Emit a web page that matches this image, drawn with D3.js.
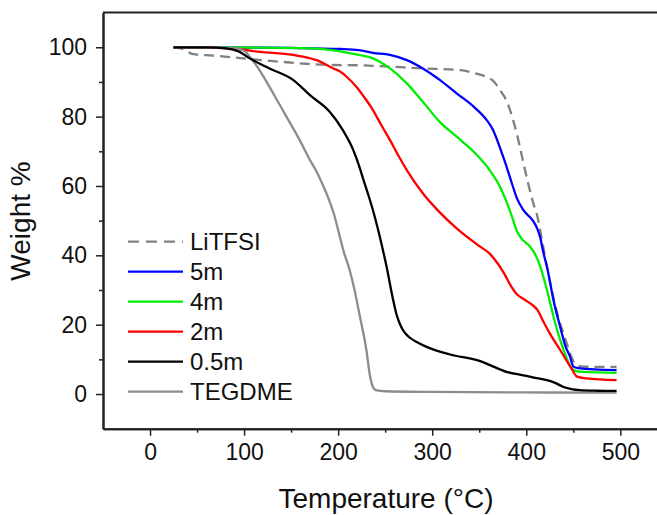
<!DOCTYPE html>
<html>
<head>
<meta charset="utf-8">
<script src="https://cdn.jsdelivr.net/npm/d3@7"></script>
<style>
  body { margin: 0; background: #fff; }
  text { font-family: "Liberation Sans", Arial, sans-serif; fill: #111; }
</style>
</head>
<body>
<svg id="chart" width="657" height="515"></svg>
<script>
// TGA curves, [temperature °C, weight %]
const litfsi = [[25,100],[35,99.5],[46,98],[67,97.6],[99,96.8],[140,95.8],[191,94.9],[223,94.8],[290,93.9],[330,93.4],[344,92.6],[358,91.4],[366,90],[372,87.7],[380,84],[386,79],[390,75],[393,71.5],[400,63],[407,55.5],[412,51],[417,44],[422,36.7],[432,24.2],[443,14.6],[450,9.5],[455,8.2],[460,7.9],[496,7.8]];
const m5 = [[25,100],[100,99.9],[150,99.8],[202,99.5],[222,99.2],[237,98.4],[255,97.8],[273,96.3],[290,93.9],[308,90.6],[326,86.7],[344,82.9],[358,79],[364,76.5],[369,73.3],[374,69.5],[379,65.6],[385,60.5],[390,56.5],[397,53],[407,50],[412,47.5],[415,45],[418,41],[422,36.7],[429,27],[436,19.4],[442,13.5],[446.5,10.8],[450,7.9],[455,7.5],[496,6.9]];
const m4 = [[25,100],[100,99.9],[170,99.7],[205,98.7],[222,97.8],[237,96.8],[255,93.9],[273,89.6],[290,84.3],[308,78.5],[326,74.2],[344,69.9],[361,64.6],[372,59.8],[379,55.5],[385,51],[390,47],[395,44.8],[404,42.5],[410,40],[415,36.7],[422,30],[429,22.3],[436,15.6],[442,11],[448,7.4],[453,6.6],[460,6.4],[496,6.1]];
const m2 = [[25,100],[60,100],[92,99.5],[117,98.7],[152,97.8],[177,96.3],[195,93.9],[202,93],[209,91.5],[220,88.4],[228,85.5],[237,81.9],[246,77.5],[255,73.3],[264,68.8],[273,64.6],[290,57.9],[308,52.4],[326,47.8],[351,42.5],[361,40.5],[370,37.5],[377,34.5],[383,31.5],[390,28.8],[397,27.4],[405,26],[412,24.2],[418,21],[425,17.5],[436,12.7],[448,7.4],[454,5],[464,4.5],[496,4]];
const m05 = [[25,100],[60,100],[81,99.7],[95,98.7],[106,96.8],[127,93.9],[152,90.6],[170,86.2],[191,81.4],[205,76.1],[216,70.4],[222,66],[227,61.7],[232,57.5],[237,53],[243,46.8],[251.5,36.7],[258.5,27.1],[262,23],[266,20],[270,18],[276,16.3],[285,14.8],[294,13.6],[319,11.4],[351,9.5],[365,7.9],[379,6.4],[397,5.4],[407,4.8],[422,4],[430,3.3],[439,2.1],[448,1.4],[457,1.1],[475,0.95],[496,0.9]];
const tegdme = [[25,100],[60,100],[90,99.7],[100,99],[106,97.3],[115,94],[127,88.6],[136,84.3],[145,80],[159,73.3],[170,67.5],[177,64.2],[185,59.5],[191,55.5],[196,51.5],[200,47.3],[206,41],[212,36],[217,30.5],[223,22.5],[230,12.7],[234,5],[237,2],[240,1.1],[250,0.8],[300,0.6],[400,0.45],[496,0.4]];

const seriesNames = ["LiTFSI", "5m", "4m", "2m", "0.5m", "TEGDME"];
const seriesData = [litfsi, m5, m4, m2, m05, tegdme];
const seriesColors = ["#808080", "#0000ff", "#00ee00", "#ff0000", "#000000", "#8c8c8c"];
const drawOrder = [0, 1, 2, 3, 5, 4];

const xTicks = [0, 100, 200, 300, 400, 500];
const yTicks = [0, 20, 40, 60, 80, 100];

const svg = d3.select("#chart");
const plotLeft = 103, plotTop = 12.6, plotBottom = 428.7;

const x = d3.scaleLinear().domain([-50, 550]).range([plotLeft, plotLeft + 600 * 0.9406]);
const y = d3.scaleLinear().domain([-10, 110]).range([plotBottom, plotTop]);

// curves
const line = d3.line()
  .x(d => x(d[0]))
  .y(d => y(d[1]))
  .curve(d3.curveMonotoneX);

for (const i of drawOrder) {
  svg.append("path")
    .datum(seriesData[i])
    .attr("d", line)
    .attr("fill", "none")
    .attr("stroke", seriesColors[i])
    .attr("stroke-width", 2.3)
    .attr("stroke-dasharray", i === 0 ? "10,6" : null);
}

// axes
svg.append("g")
  .attr("transform", `translate(0,${plotBottom})`)
  .call(d3.axisBottom(x).tickValues(xTicks).tickSize(7).tickPadding(8).tickSizeOuter(0));
svg.append("g")
  .attr("transform", `translate(0,${plotBottom})`)
  .call(d3.axisBottom(x).tickValues(d3.range(50, 550, 100)).tickSize(4).tickFormat("").tickSizeOuter(0));

svg.append("g")
  .attr("transform", `translate(${plotLeft},0)`)
  .call(d3.axisLeft(y).tickValues(yTicks).tickSize(7).tickPadding(9).tickSizeOuter(0));
svg.append("g")
  .attr("transform", `translate(${plotLeft},0)`)
  .call(d3.axisLeft(y).tickValues(d3.range(10, 110, 20)).tickSize(4).tickFormat("").tickSizeOuter(0));

// top frame line
svg.append("line")
  .attr("x1", plotLeft).attr("x2", 657)
  .attr("y1", plotTop).attr("y2", plotTop)
  .attr("stroke", "#222").attr("stroke-width", 2);

svg.selectAll(".domain").attr("stroke", "#222").attr("stroke-width", 2);
svg.selectAll(".tick line").attr("stroke", "#222").attr("stroke-width", 1.5);
svg.selectAll(".tick text").style("font-size", "23px").attr("fill", "#111");

// axis titles
svg.append("text")
  .attr("x", 386).attr("y", 508)
  .attr("text-anchor", "middle")
  .style("font-size", "28px")
  .text("Temperature (°C)");

svg.append("text")
  .attr("transform", "translate(30,221) rotate(-90)")
  .attr("text-anchor", "middle")
  .style("font-size", "28px")
  .text("Weight %");

// legend
const legend = svg.append("g");
seriesNames.forEach((name, i) => {
  const ly = 241.7 + i * 30;
  legend.append("line")
    .attr("x1", 128).attr("x2", 183)
    .attr("y1", ly).attr("y2", ly)
    .attr("stroke", seriesColors[i])
    .attr("stroke-width", 2.3)
    .attr("stroke-dasharray", i === 0 ? "11,7" : null);
  legend.append("text")
    .attr("x", 190).attr("y", ly)
    .attr("dy", "0.36em")
    .style("font-size", "24px")
    .text(name);
});
</script>
</body>
</html>
